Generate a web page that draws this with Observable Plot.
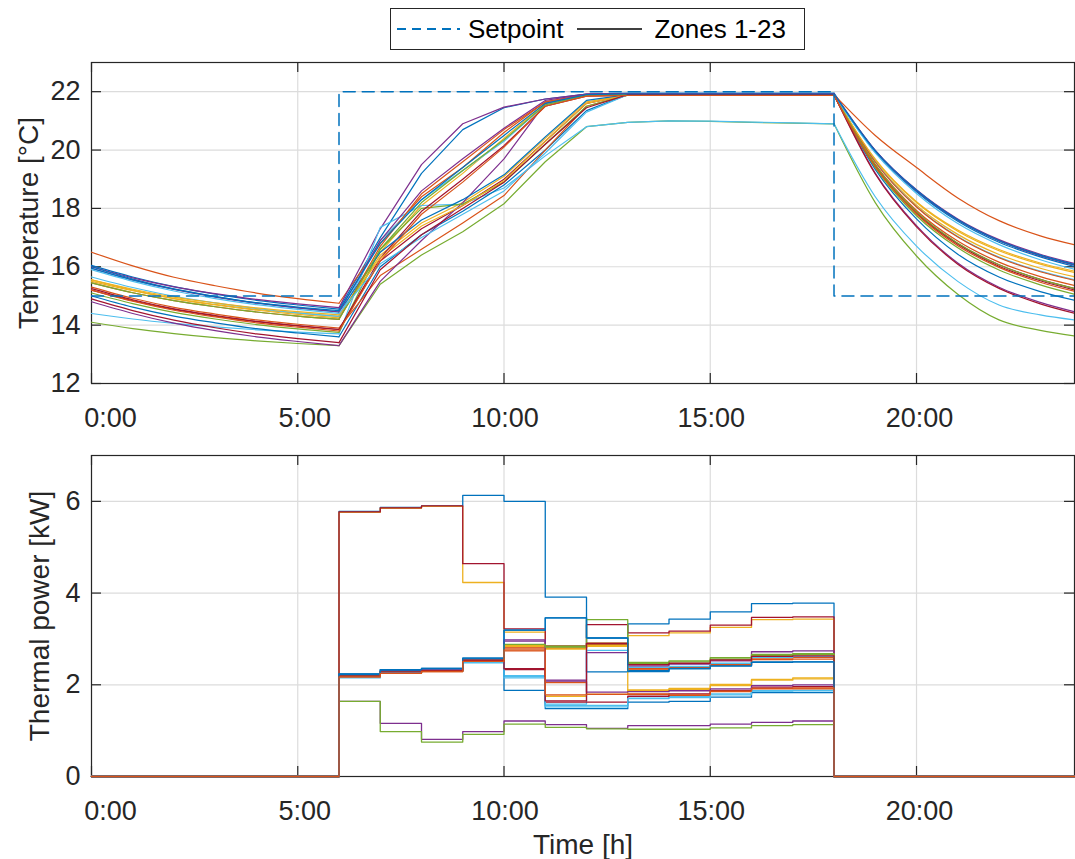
<!DOCTYPE html>
<html>
<head>
<meta charset="utf-8">
<script src="https://cdn.jsdelivr.net/npm/d3@7"></script>
<script src="https://cdn.jsdelivr.net/npm/@observablehq/plot@0.6"></script>
<style>
  html, body { margin: 0; padding: 0; background: #fff; }
  body { font-family: "Liberation Sans", Arial, Helvetica, sans-serif; }
  #wrap { position: relative; width: 1075px; height: 859px; overflow: hidden; background: #fff; }
  #top, #bottom { position: absolute; left: 0; }
  #top { top: 0; }
  #bottom { top: 440px; }
  #legend {
    position: absolute; left: 390px; top: 8px; width: 413px; height: 40px;
    border: 1.5px solid #262626; background: #fff; display: flex; align-items: center;
    font-size: 26px; color: #000; z-index: 5; box-sizing: content-box;
  }
  #legend svg { display: block; }
</style>
</head>
<body>
<div id="wrap">
  <div id="top"></div>
  <div id="bottom"></div>
  <div id="legend">
    <svg width="63" height="12" style="margin-left:6px"><line x1="0" y1="6" x2="63" y2="6" stroke="#0072BD" stroke-width="2" stroke-dasharray="9,6"/></svg>
    <span style="margin-left:8px">Setpoint</span>
    <svg width="65" height="12" style="margin-left:14px"><line x1="0" y1="6" x2="65" y2="6" stroke="#404040" stroke-width="2"/></svg>
    <span style="margin-left:12px">Zones 1-23</span>
  </div>
</div>
<script>
// ---------------- DATA ----------------
const hours = [0,1,2,3,4,5,6,7,8,9,10,11,12,13,14,15,16,17,18,19,20,21,22,23,24];

// setpoint temperature [°C] at each hour (step function)
const setpoint = [15,15,15,15,15,15,22,22,22,22,22,22,22,22,22,22,22,22,15,15,15,15,15,15,15];

// zone temperatures [°C], one row per zone (1..23), values at hours 0..24
const zoneTemperatures = [
  [16.05,15.65,15.32,15.06,14.85,14.69,14.55,17.0,19.2,20.7,21.45,21.75,21.92,21.95,21.95,21.95,21.95,21.95,21.95,19.99,18.62,17.61,16.89,16.39,16.0],
  [16.5,16.03,15.64,15.35,15.1,14.91,14.75,16.8,18.4,19.4,20.6,21.65,21.9,21.9,21.9,21.9,21.9,21.9,21.9,20.5,19.4,18.36,17.58,17.06,16.7],
  [15.5,15.18,14.91,14.71,14.54,14.41,14.3,16.5,18.1,19.2,20.4,21.6,21.88,21.88,21.88,21.88,21.88,21.88,21.88,19.67,18.2,17.22,16.55,16.09,15.75],
  [16.0,15.62,15.31,15.08,14.88,14.73,14.6,17.3,19.5,20.9,21.47,21.75,21.92,21.93,21.93,21.93,21.93,21.93,21.93,19.99,18.64,17.64,16.93,16.43,16.05],
  [14.1,13.88,13.71,13.57,13.46,13.37,13.3,15.4,16.4,17.2,18.16,19.6,20.8,20.95,21.0,20.98,20.95,20.92,20.9,18.2,16.37,15.06,14.18,13.82,13.6],
  [14.4,14.21,14.06,13.94,13.84,13.76,13.7,17.35,18.1,18.15,18.7,19.8,20.8,20.95,21.0,20.99,20.96,20.93,20.9,18.4,16.71,15.5,14.69,14.35,14.15],
  [15.2,14.84,14.54,14.31,14.12,13.97,13.85,16.2,17.3,18.1,19.0,20.3,21.6,21.88,21.88,21.88,21.88,21.88,21.88,19.46,17.84,16.77,16.02,15.52,15.15],
  [15.0,14.62,14.31,14.08,13.88,13.73,13.6,16.0,17.1,17.9,18.8,20.0,21.35,21.9,21.9,21.9,21.9,21.9,21.9,19.34,17.64,16.43,15.65,15.15,14.8],
  [15.3,14.92,14.61,14.38,14.18,14.03,13.9,15.7,16.6,17.5,18.44,20.0,21.5,21.88,21.88,21.88,21.88,21.88,21.88,19.51,17.93,16.88,16.16,15.66,15.3],
  [15.55,15.2,14.91,14.69,14.51,14.37,14.25,16.4,17.5,18.2,19.1,20.4,21.65,21.88,21.88,21.88,21.88,21.88,21.88,19.62,18.11,17.11,16.42,15.95,15.6],
  [14.8,14.4,14.07,13.81,13.6,13.44,13.3,15.5,16.9,18.2,19.7,21.6,21.9,21.92,21.92,21.92,21.92,21.92,21.92,19.21,17.41,16.13,15.3,14.78,14.4],
  [15.1,14.74,14.44,14.21,14.02,13.87,13.75,16.6,18.0,18.15,18.9,20.2,21.5,21.88,21.88,21.88,21.88,21.88,21.88,19.4,17.75,16.65,15.89,15.38,15.0],
  [15.65,15.29,14.99,14.76,14.57,14.42,14.3,16.9,18.3,19.3,20.3,21.55,21.88,21.9,21.9,21.9,21.9,21.9,21.9,19.6,18.06,17.04,16.33,15.85,15.5],
  [15.25,14.87,14.56,14.33,14.13,13.98,13.85,16.3,17.9,19.0,20.15,21.5,21.85,21.87,21.87,21.87,21.87,21.87,21.87,19.47,17.87,16.8,16.07,15.57,15.2],
  [16.0,15.58,15.24,14.98,14.76,14.59,14.45,16.5,17.6,18.3,19.15,20.45,21.7,21.9,21.9,21.9,21.9,21.9,21.9,19.94,18.57,17.56,16.84,16.34,15.95],
  [15.45,15.11,14.84,14.63,14.45,14.31,14.2,16.7,18.5,19.6,20.7,21.65,21.9,21.9,21.9,21.9,21.9,21.9,21.9,19.59,18.05,17.02,16.31,15.83,15.48],
  [15.55,15.23,14.96,14.76,14.59,14.46,14.35,16.3,17.4,18.1,18.95,20.3,21.6,21.88,21.88,21.88,21.88,21.88,21.88,19.69,18.23,17.26,16.59,16.13,15.8],
  [15.95,15.55,15.22,14.96,14.75,14.59,14.45,16.9,18.6,19.7,20.75,21.7,21.92,21.92,21.92,21.92,21.92,21.92,21.92,19.97,18.6,17.6,16.89,16.38,16.0],
  [15.45,15.11,14.84,14.63,14.45,14.31,14.2,16.6,18.2,19.3,20.35,21.55,21.88,21.9,21.9,21.9,21.9,21.9,21.9,19.49,17.88,16.81,16.07,15.57,15.2],
  [15.9,15.5,15.17,14.91,14.7,14.54,14.4,16.1,17.0,17.8,18.6,19.9,21.3,21.9,21.9,21.9,21.9,21.9,21.9,19.9,18.51,17.48,16.76,16.24,15.85],
  [14.9,14.5,14.17,13.91,13.7,13.54,13.4,15.9,17.1,18.0,18.9,20.2,21.45,21.9,21.9,21.9,21.9,21.9,21.9,19.18,17.37,16.09,15.26,14.73,14.35],
  [15.95,15.55,15.23,14.98,14.77,14.62,14.5,16.8,18.3,19.4,20.5,21.6,21.9,21.92,21.92,21.92,21.92,21.92,21.92,19.97,18.62,17.61,16.9,16.4,16.02],
  [15.2,14.82,14.51,14.28,14.08,13.93,13.8,16.2,17.8,18.9,20.1,21.5,21.85,21.87,21.87,21.87,21.87,21.87,21.87,19.43,17.81,16.72,15.98,15.47,15.1]
];

// thermal power [kW]: zero outside the heating window
const powerOffHours = [0, 18, 24];
const powerOffValue = 0;
// heating window hours (power is held for one hour from each)
const powerHours = [6,7,8,9,10,11,12,13,14,15,16,17];
const zonePower = [
  [5.78,5.87,5.90,6.13,6.00,3.91,2.28,3.33,3.43,3.59,3.77,3.78],
  [2.18,2.26,2.30,2.52,2.74,2.84,2.91,2.35,2.38,2.44,2.58,2.60],
  [5.76,5.85,5.89,4.23,3.15,2.80,2.84,3.07,3.13,3.25,3.42,3.43],
  [1.64,1.16,0.81,0.98,1.21,1.13,1.05,1.11,1.11,1.14,1.18,1.21],
  [1.64,0.98,0.75,0.92,1.14,1.07,1.04,1.03,1.03,1.06,1.11,1.13],
  [2.15,2.27,2.31,2.48,2.18,1.55,1.55,1.71,1.74,1.80,1.87,1.88],
  [5.77,5.86,5.90,4.64,3.22,2.84,3.31,3.13,3.17,3.30,3.47,3.48],
  [2.24,2.33,2.36,2.58,3.19,3.46,3.02,2.31,2.36,2.42,2.50,2.50],
  [2.17,2.26,2.29,2.51,2.82,2.05,1.79,1.79,1.77,1.85,1.91,1.91],
  [2.19,2.28,2.31,2.53,2.84,1.75,1.79,1.89,1.92,2.01,2.12,2.15],
  [2.20,2.28,2.32,2.54,2.98,2.10,2.70,2.41,2.45,2.52,2.72,2.74],
  [2.19,2.27,2.31,2.53,2.86,2.84,3.42,2.49,2.52,2.59,2.66,2.68],
  [2.16,2.27,2.30,2.50,2.20,1.58,2.75,2.38,2.40,2.47,2.60,2.62],
  [2.19,2.28,2.31,2.53,2.33,1.62,1.62,1.75,1.80,1.88,1.95,1.96],
  [2.22,2.31,2.34,2.56,1.88,1.48,1.48,1.62,1.64,1.73,1.83,1.83],
  [2.18,2.26,2.30,2.52,2.80,2.80,2.88,2.34,2.36,2.43,2.55,2.56],
  [2.19,2.28,2.31,2.53,2.86,2.78,2.86,1.87,1.90,1.98,2.10,2.13],
  [2.20,2.29,2.32,2.54,2.95,2.08,1.84,1.85,1.87,1.91,1.98,2.00],
  [2.19,2.28,2.31,2.53,2.88,2.82,2.90,2.47,2.50,2.56,2.64,2.66],
  [2.16,2.27,2.30,2.49,2.15,1.52,1.52,1.70,1.72,1.78,1.86,1.87],
  [2.19,2.28,2.31,2.53,2.35,1.65,2.90,2.44,2.47,2.54,2.62,2.63],
  [2.24,2.33,2.36,2.58,3.19,3.46,3.02,2.29,2.35,2.41,2.49,2.50],
  [2.17,2.25,2.29,2.51,2.76,1.78,1.79,1.80,1.78,1.86,1.92,1.93]
];

const xTickValues = [0, 5, 10, 15, 20];
const xTickLabels = ["0:00", "5:00", "10:00", "15:00", "20:00"];
const tempTicks = [12, 14, 16, 18, 20, 22];
const powerTicks = [0, 2, 4, 6];
const xDomain = [0, 23.83];
const tempDomain = [12, 23];
const powerDomain = [0, 7];
const zoneColors = ["#0072BD", "#D95319", "#EDB120", "#7E2F8E", "#77AC30", "#4DBEEE", "#A2142F"];
const heatingStart = 6, heatingEnd = 18;

const labels = { temp: "Temperature [°C]", power: "Thermal power [kW]", time: "Time [h]" };

// ---------------- STYLE ----------------
const FONT = '"Liberation Sans", Arial, Helvetica, sans-serif';
const AX = "#262626";
const GRID = "#dcdcdc";
const W = 1075, ML = 91, MR = 1;
const innerW = W - ML - MR;
const innerH = 321;
const tickLen = 10;
const xLabelShift = [19, 7, 1, 1, 3];   // horizontal nudge of each x tick label (px)

// ---------------- BUILD ----------------
const tempRows = [];
zoneTemperatures.forEach((vals, zi) => {
  vals.forEach((v, hi) => tempRows.push({zone: zi + 1, hour: hours[hi], temp: v, color: zoneColors[zi % 7]}));
});
const nightA = tempRows.filter(d => d.hour <= heatingStart);
const dayRows = tempRows.filter(d => d.hour >= heatingStart && d.hour <= heatingEnd);
const nightB = tempRows.filter(d => d.hour >= heatingEnd);
const setRows = setpoint.map((v, i) => ({hour: hours[i], temp: v}));

const powerRows = [];
zonePower.forEach((vals, zi) => {
  const c = zoneColors[zi % 7];
  powerRows.push({zone: zi + 1, hour: powerOffHours[0], p: powerOffValue, color: c});
  vals.forEach((v, k) => powerRows.push({zone: zi + 1, hour: powerHours[k], p: v, color: c}));
  powerRows.push({zone: zi + 1, hour: powerOffHours[1], p: powerOffValue, color: c});
  powerRows.push({zone: zi + 1, hour: powerOffHours[2], p: powerOffValue, color: c});
});

function boxMarks(yTicks) {
  return [
    Plot.frame({stroke: AX, strokeWidth: 1.2}),
    Plot.tickX(xTickValues, {x: d => d, insetTop: innerH - tickLen, stroke: AX, strokeWidth: 1.2}),
    Plot.tickX(xTickValues, {x: d => d, insetBottom: innerH - tickLen, stroke: AX, strokeWidth: 1.2}),
    Plot.tickY(yTicks, {y: d => d, insetRight: innerW - tickLen, stroke: AX, strokeWidth: 1.2}),
    Plot.tickY(yTicks, {y: d => d, insetLeft: innerW - tickLen, stroke: AX, strokeWidth: 1.2})
  ];
}
function labelMarks(yTicks) {
  return [
    ...xTickValues.map((v, i) => Plot.axisX([v], {tickSize: 0, tickPadding: 24, dx: xLabelShift[i],
      tickFormat: () => xTickLabels[i], fontSize: 27, fill: AX, label: null})),
    Plot.axisY(yTicks, {tickSize: 0, tickPadding: 11, fontSize: 27, fill: AX, label: null})
  ];
}

const topPlot = Plot.plot({
  width: W, height: 440,
  marginTop: 62, marginBottom: 57, marginLeft: ML, marginRight: MR,
  style: {fontFamily: FONT, background: "transparent", color: AX, overflow: "visible"},
  x: {domain: xDomain},
  y: {domain: tempDomain},
  color: {type: "identity"},
  marks: [
    Plot.gridX(xTickValues, {stroke: GRID, strokeOpacity: 1, strokeWidth: 1.2}),
    Plot.gridY(tempTicks, {stroke: GRID, strokeOpacity: 1, strokeWidth: 1.2}),
    ...boxMarks(tempTicks),
    Plot.line(nightA, {x: "hour", y: "temp", z: "zone", stroke: "color", strokeWidth: 1.2, curve: "monotone-x", clip: true}),
    Plot.line(dayRows, {x: "hour", y: "temp", z: "zone", stroke: "color", strokeWidth: 1.2, clip: true}),
    Plot.line(nightB, {x: "hour", y: "temp", z: "zone", stroke: "color", strokeWidth: 1.2, curve: "monotone-x", clip: true}),
    Plot.line(setRows, {x: "hour", y: "temp", curve: "step-after", stroke: "#0072BD", strokeWidth: 1.5, strokeDasharray: "12,7", clip: true}),
    ...labelMarks(tempTicks),
    Plot.text([labels.temp], {text: d => d, frameAnchor: "left", textAnchor: "middle", lineAnchor: "middle", rotate: -90, dx: -62, fontSize: 28, fill: AX})
  ]
});
document.getElementById("top").appendChild(topPlot);

const bottomPlot = Plot.plot({
  width: W, height: 419,
  marginTop: 15, marginBottom: 83, marginLeft: ML, marginRight: MR,
  style: {fontFamily: FONT, background: "transparent", color: AX, overflow: "visible"},
  x: {domain: xDomain},
  y: {domain: powerDomain},
  color: {type: "identity"},
  marks: [
    Plot.gridX(xTickValues, {stroke: GRID, strokeOpacity: 1, strokeWidth: 1.2}),
    Plot.gridY(powerTicks, {stroke: GRID, strokeOpacity: 1, strokeWidth: 1.2}),
    ...boxMarks(powerTicks),
    Plot.line(powerRows, {x: "hour", y: "p", z: "zone", stroke: "color", curve: "step-after", strokeWidth: 1.3}),
    ...labelMarks(powerTicks),
    Plot.text([labels.power], {text: d => d, frameAnchor: "left", textAnchor: "middle", lineAnchor: "middle", rotate: -90, dx: -51, fontSize: 28, fill: AX}),
    Plot.text([labels.time], {text: d => d, frameAnchor: "bottom", textAnchor: "middle", lineAnchor: "middle", dy: 69, fontSize: 28, fill: AX})
  ]
});
document.getElementById("bottom").appendChild(bottomPlot);
</script>
</body>
</html>
